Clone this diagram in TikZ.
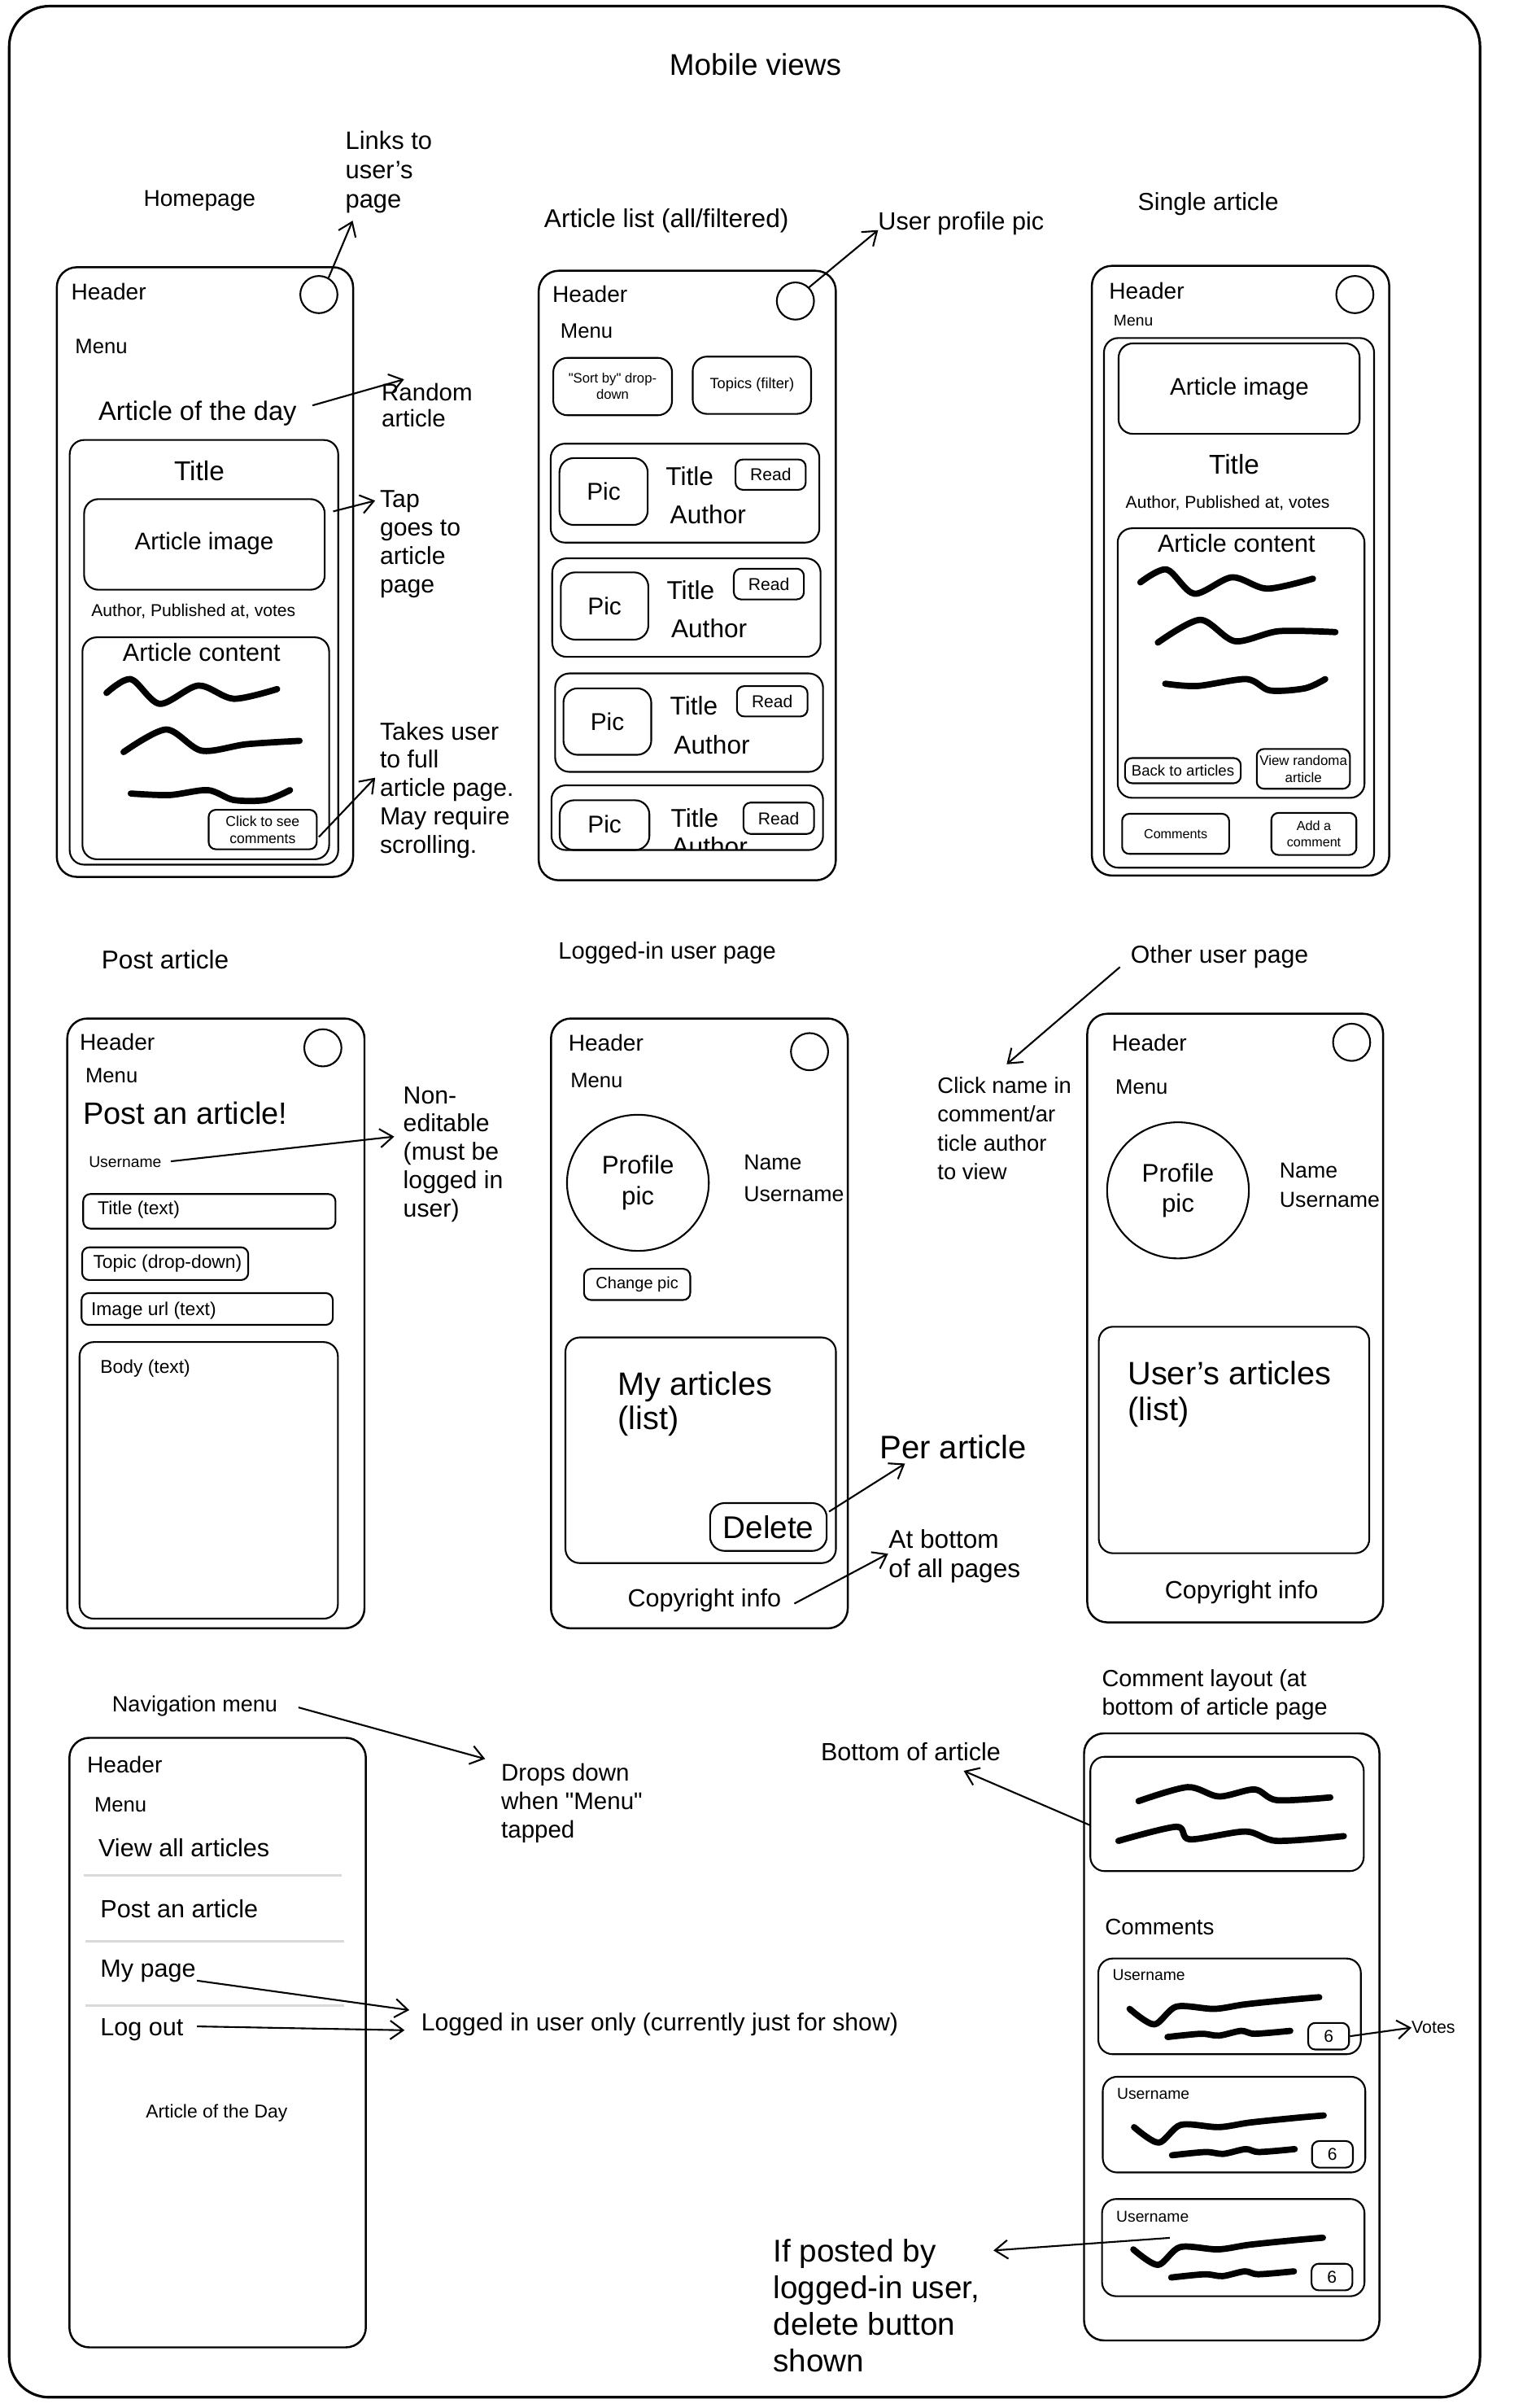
\documentclass[tikz,border=0pt]{standalone}
\usepackage{fontspec}
\setmainfont{Liberation Sans}
\usetikzlibrary{arrows.meta,shapes.geometric}

\newcommand{\fsz}[2]{\fontsize{#1}{#2}\selectfont}

\tikzset{
  txt/.style={inner sep=0pt, outer sep=0pt},
  hdr/.style={txt, font=\fsz{8}{10}, anchor=west},
  mnu/.style={txt, font=\fsz{7.3}{9}, anchor=west},
  note/.style={txt, font=\fsz{8.6}{9.9}, align=left, anchor=west},
  phone/.style={draw, line width=0.7pt, rounded corners=7pt},
  box/.style={draw, line width=0.6pt, rounded corners=5pt},
  btn/.style={draw, line width=0.6pt, rounded corners=2.5pt},
  avatar/.style={draw, circle, line width=0.6pt, minimum size=13pt, inner sep=0pt},
  pfp/.style={draw, ellipse, line width=0.6pt, inner sep=0pt, minimum width=49.6pt, minimum height=47.6pt, align=center, font=\fsz{8.9}{10.6}},
  scrib/.style={line width=2.2pt, line cap=round, line join=round},
  sep/.style={draw=black!15, line width=0.8pt},
  arr/.style={-{Straight Barb[length=4.5pt,width=6.5pt]}, line width=0.6pt}
}

\begin{document}
\begin{tikzpicture}[x=0.018874cm, y=-0.018874cm]
  \useasboundingbox (0,0) rectangle (986,1568);
  \draw[line width=0.9pt, rounded corners=14pt] (6,4) rectangle (964,1561);
  \node[txt, font=\fsz{10.5}{12}] (title) at (492,42) {Mobile views};

  % homepage
  \node[txt, font=\fsz{8}{10}] (hplbl) at (130,131) {Homepage};
  \node[note, font=\fsz{8.8}{10.2}] (hplinks) at (225,112) {Links to\\user's\\page};
  \draw[phone] (37,174) rectangle (230,571);
  \node[avatar] (hpav) at (207.7,191.8) {};
  \coordinate (hplinkstip) at (229.7,143.7);
  \draw[arr] (hpav.60) -- (hplinkstip);
  \node[hdr] (hphead) at (46.4,190) {Header};
  \node[mnu] (hpmenu) at (49,225.5) {Menu};
  \node[txt, font=\fsz{9.3}{11}, anchor=west] (hpaotd) at (64.2,269) {Article of the day};
  \node[note, font=\fsz{8.4}{9}] (hprand) at (248.6,263.7) {Random\\article};
  \coordinate (hpaotdtail) at (203.5,264);
  \coordinate (hprandtip) at (263.2,247);
  \draw[arr] (hpaotdtail) -- (hprandtip);
  \draw[box] (45.4,286.5) rectangle (220.3,563);
  \node[txt, font=\fsz{9.5}{11}] (hptitle) at (129.8,306.8) {Title};
  \draw[box] (54.8,325) rectangle (211.5,384);
  \node[txt, font=\fsz{8.4}{10}] (hpimg) at (133,354) {Article image};
  \node[txt, font=\fsz{6}{7}] (hpauth) at (126,398.3) {Author, Published at, votes};
  \draw[box] (53.7,415) rectangle (214.4,559.5);
  \node[txt, font=\fsz{8.7}{10}] (hpcont) at (131.3,424.6) {Article content};
  \draw[scrib] plot[smooth] coordinates {(69.4,451.2) (85.2,442.2) (104,458.3) (129.2,446.4) (152.2,455) (180.5,448.7)};
  \draw[scrib] plot[smooth] coordinates {(80.5,489.7) (108.2,475) (131.3,488.8) (160.6,484.6) (195.1,482.4)};
  \draw[scrib] plot[smooth] coordinates {(85.2,516.7) (110.3,517.7) (135.4,514.5) (152.2,520.9) (173.1,520.9) (188.9,514.5)};
  \draw[btn] (135.9,527.3) rectangle (206.3,553);
  \node[txt, font=\fsz{5}{6}, align=center] (hpclick) at (171.1,540.2) {Click to see\\comments};
  \coordinate (hpclicktail) at (207.7,545);
  \coordinate (hptakestip) at (244.4,506.4);
  \draw[arr] (hpclicktail) -- (hptakestip);
  \node[note] (hptakes) at (247.5,514.5) {Takes user\\to full\\article page.\\May require\\scrolling.};
  \node[note] (hptap) at (247.5,354.3) {Tap\\goes to\\article\\page};
  \coordinate (hpcardtail) at (217,333);
  \coordinate (hptaptip) at (244.4,326);
  \draw[arr] (hpcardtail) -- (hptaptip);

  % article list
  \node[txt, font=\fsz{9}{11}, anchor=west] (allbl) at (354.5,144) {Article list (all/filtered)};
  \node[txt, font=\fsz{8.7}{10}, anchor=west] (alprof) at (572,145.4) {User profile pic};
  \draw[phone] (350.9,176.3) rectangle (544.4,573.2);
  \node[avatar] (alav) at (518.1,196) {};
  \coordinate (alproftip) at (572,149.8);
  \draw[arr] (alav.45) -- (alproftip);
  \node[hdr] (alhead) at (359.9,191.6) {Header};
  \node[mnu] (almenu) at (365.1,215.4) {Menu};
  \draw[box] (360.4,233) rectangle (437.7,270.4);
  \node[txt, font=\fsz{4.75}{5.8}, align=center] (alsort) at (399,251.3) {\textquotedbl Sort by\textquotedbl{} drop-\\down};
  \draw[box] (451.2,232.2) rectangle (528.3,269.5);
  \node[txt, font=\fsz{5.2}{6}] (altopics) at (489.8,250.7) {Topics (filter)};

  \draw[box] (358.7,288.9) rectangle (533.7,353.3);
  \draw[box] (364.4,298.3) rectangle (421.9,341.8);
  \node[txt, font=\fsz{8.5}{10}] (alpic1) at (393.2,320) {Pic};
  \node[txt, font=\fsz{9}{10}, anchor=west] (altitle1) at (433.7,310) {Title};
  \draw[btn] (479.1,299.2) rectangle (524.8,318.9);
  \node[txt, font=\fsz{6}{7}] (alread1) at (502,309) {Read};
  \node[txt, font=\fsz{9}{10}, anchor=west] (alauth1) at (436.5,335) {Author};

  \draw[box] (359.7,363.6) rectangle (534.5,427.7);
  \draw[box] (365.3,372.7) rectangle (422.3,416.5);
  \node[txt, font=\fsz{8.5}{10}] (alpic2) at (393.8,394.6) {Pic};
  \node[txt, font=\fsz{9}{10}, anchor=west] (altitle2) at (434.3,384.4) {Title};
  \draw[btn] (478,370.3) rectangle (523.6,390.3);
  \node[txt, font=\fsz{6}{7}] (alread2) at (500.8,380.3) {Read};
  \node[txt, font=\fsz{9}{10}, anchor=west] (alauth2) at (437.2,409.4) {Author};

  \draw[box] (361.6,438.5) rectangle (536.1,502.6);
  \draw[box] (367,448.2) rectangle (424.2,491.5);
  \node[txt, font=\fsz{8.5}{10}] (alpic3) at (395.6,469.8) {Pic};
  \node[txt, font=\fsz{9}{10}, anchor=west] (altitle3) at (436.5,459.4) {Title};
  \draw[btn] (480,446.8) rectangle (526,466.5);
  \node[txt, font=\fsz{6}{7}] (alread3) at (503,456.6) {Read};
  \node[txt, font=\fsz{9}{10}, anchor=west] (alauth3) at (439,485) {Author};

  \draw[box] (359.2,511.4) rectangle (536.1,553.5);
  \draw[box] (364.6,521.1) rectangle (423,553.5);
  \node[txt, font=\fsz{8.5}{10}] (alpic4) at (393.8,536.5) {Pic};
  \node[txt, font=\fsz{9}{10}, anchor=west] (altitle4) at (437,532.9) {Title};
  \draw[btn] (484.3,522.6) rectangle (530.2,543);
  \node[txt, font=\fsz{6}{7}] (alread4) at (507.2,532.8) {Read};
  \begin{scope}
    \clip (359.2,511.4) rectangle (536.1,553.5);
    \node[txt, font=\fsz{9}{10}, anchor=west] (alauth4) at (437.5,551) {Author};
  \end{scope}

  % single article
  \node[txt, font=\fsz{8.6}{10}] (salbl) at (787,133) {Single article};
  \draw[phone] (711.2,173.1) rectangle (904.9,570.1);
  \node[avatar] (saav) at (882.5,191.8) {};
  \node[hdr] (sahead) at (722.5,189.5) {Header};
  \node[txt, font=\fsz{5.5}{6.5}, anchor=west] (samenu) at (725.4,208.8) {Menu};
  \draw[box] (719.1,220.1) rectangle (895,565);
  \draw[box] (728.6,223.6) rectangle (885.6,282.5);
  \node[txt, font=\fsz{8.4}{10}] (saimg) at (807.3,253.4) {Article image};
  \node[txt, font=\fsz{9.5}{11}] (satitle) at (803.9,302.4) {Title};
  \node[txt, font=\fsz{6}{7}] (saauth) at (799.7,327.7) {Author, Published at, votes};
  \draw[box] (728,344) rectangle (888.8,519.5);
  \node[txt, font=\fsz{8.7}{10}] (sacont) at (805.4,353.6) {Article content};
  \draw[scrib] plot[smooth] coordinates {(742.8,379.2) (759.9,370.8) (777.9,386.6) (802.5,375.9) (825.3,383.3) (855.2,376.8)};
  \draw[scrib] plot[smooth] coordinates {(754.2,418.4) (781.7,403.6) (804.4,417.5) (832.9,411) (869.8,411.6)};
  \draw[scrib] plot[smooth] coordinates {(759,445.2) (779.8,446.7) (812,442.2) (827.2,449.6) (850,448.2) (863.2,442.2)};
  \draw[btn] (732.8,493.6) rectangle (808.2,510);
  \node[txt, font=\fsz{5.3}{6}] (saback) at (770.5,501.8) {Back to articles};
  \draw[btn] (818.6,487.7) rectangle (879.3,513.6);
  \node[txt, font=\fsz{4.8}{5.8}, align=center] (sarand) at (849,500.7) {View randoma\\article};
  \draw[btn] (730.9,529.9) rectangle (800.6,556);
  \node[txt, font=\fsz{4.6}{5.6}] (sacomm) at (765.8,543) {Comments};
  \draw[btn] (828.1,529.3) rectangle (883.5,556.7);
  \node[txt, font=\fsz{4.6}{5.8}, align=center] (saadd) at (855.8,543) {Add a\\comment};

  % post article
  \node[txt, font=\fsz{9}{10}] (palbl) at (107.6,624.6) {Post article};
  \draw[phone] (43.8,663.2) rectangle (237.4,1060.3);
  \node[avatar] (paav) at (210.3,682.3) {};
  \node[hdr] (pahead) at (52,678.4) {Header};
  \node[mnu] (pamenu) at (55.7,700.6) {Menu};
  \node[txt, font=\fsz{10.8}{12}, anchor=west] (papost) at (54.2,724.9) {Post an article!};
  \node[txt, font=\fsz{5.5}{6.5}, anchor=west] (pauser) at (57.9,756.8) {Username};
  \node[note] (panon) at (262.7,751.6) {Non-\\editable\\(must be\\logged in\\user)};
  \coordinate (pausertail) at (111.3,756.2);
  \coordinate (panontip) at (256.8,740.1);
  \draw[arr] (pausertail) -- (panontip);
  \draw[btn] (54.2,777.5) rectangle (218.5,800);
  \node[txt, font=\fsz{6.5}{7.5}, anchor=west] (patitle) at (63.7,787.9) {Title (text)};
  \draw[btn] (53.5,812.2) rectangle (161.7,833.5);
  \node[txt, font=\fsz{6.5}{7.5}, anchor=west] (patopic) at (60.7,822.8) {Topic (drop-down)};
  \draw[btn] (53.1,842) rectangle (216.8,862.7);
  \node[txt, font=\fsz{6.5}{7.5}, anchor=west] (paimg) at (59.4,853.5) {Image url (text)};
  \draw[box] (51.8,873.9) rectangle (220.1,1054);
  \node[txt, font=\fsz{6.5}{7.5}, anchor=west] (pabody) at (65.4,891.3) {Body (text)};

  % logged-in user page
  \node[txt, font=\fsz{8.3}{10}, anchor=west] (lulbl) at (363.7,620.6) {Logged-in user page};
  \draw[phone] (358.9,663.2) rectangle (552.2,1060.3);
  \node[avatar] (luav) at (527.3,684.8) {};
  \node[hdr] (luhead) at (370.3,679.3) {Header};
  \node[mnu] (lumenu) at (371.6,703.6) {Menu};
  \node[pfp] (lupic) at (415.5,770.2) {Profile\\pic};
  \node[txt, font=\fsz{7.6}{11.1}, align=left, anchor=west] (luname) at (484.5,767.2) {Name\\Username};
  \draw[btn] (380.4,826.2) rectangle (449.6,846.5);
  \node[txt, font=\fsz{5.7}{6.5}] (luchange) at (415,836.5) {Change pic};
  \draw[box] (368.3,870.9) rectangle (544.5,1017.8);
  \node[txt, font=\fsz{11.3}{12.2}, align=left, anchor=west] (luarts) at (402.4,914.2) {My articles\\(list)};
  \node[draw, line width=0.6pt, rounded corners=5pt, inner sep=0pt, minimum width=40.8pt, minimum height=16.7pt, font=\fsz{11}{12}] (ludel) at (500.5,994.3) {Delete};
  \node[txt, font=\fsz{11.4}{12}, anchor=west] (luper) at (573,942.3) {Per article};
  \coordinate (ludeltail) at (540,984.3);
  \coordinate (lupertip) at (589.5,953);
  \draw[arr] (ludeltail) -- (lupertip);
  \node[txt, font=\fsz{8.7}{10}] (lucopy) at (458.8,1042.1) {Copyright info};
  \node[note, font=\fsz{9}{10.2}] (lubottom) at (578.9,1013.5) {At bottom\\of all pages};
  \coordinate (lucopytail) at (517.4,1044.2);
  \coordinate (lubottomtip) at (578.5,1011.7);
  \draw[arr] (lucopytail) -- (lubottomtip);

  % other user page
  \node[txt, font=\fsz{8.6}{10}, anchor=west] (oulbl) at (736.5,623) {Other user page};
  \node[note, font=\fsz{7.8}{10.1}] (ouclick) at (610.7,734.9) {Click name in\\comment/ar\\ticle author\\to view};
  \coordinate (oulbltail) at (729.5,629.7);
  \coordinate (ouclicktip) at (655.7,693);
  \draw[arr] (oulbltail) -- (ouclicktip);
  \draw[phone] (708.2,660.1) rectangle (900.9,1056.4);
  \node[avatar] (ouav) at (880.4,678.7) {};
  \node[hdr] (ouhead) at (724.2,679.3) {Header};
  \node[mnu] (oumenu) at (726.6,707.6) {Menu};
  \node[pfp] (oupic) at (767.3,775.1) {Profile\\pic};
  \node[txt, font=\fsz{7.6}{10.2}, align=left, anchor=west] (ouname) at (833.5,771.8) {Name\\Username};
  \draw[box] (715.7,863.9) rectangle (891.9,1011.4);
  \node[txt, font=\fsz{11.3}{12.6}, align=left, anchor=west] (ouarts) at (734.7,907.8) {User's articles\\(list)};
  \node[txt, font=\fsz{8.7}{10}] (oucopy) at (808.7,1036.6) {Copyright info};

  % navigation menu
  \node[txt, font=\fsz{7.7}{9}, anchor=west] (nmlbl) at (73.1,1111.2) {Navigation menu};
  \node[note, font=\fsz{8.4}{10}] (nmdrops) at (326.5,1174) {Drops down\\when \textquotedbl Menu\textquotedbl\\tapped};
  \coordinate (nmlbltail) at (194.4,1111.8);
  \coordinate (nmdropstip) at (316,1145.3);
  \draw[arr] (nmlbltail) -- (nmdropstip);
  \draw[phone] (45.2,1131.6) rectangle (238.3,1528.5);
  \node[hdr] (nmhead) at (56.8,1149.2) {Header};
  \node[mnu] (nmmenu) at (61.5,1175.1) {Menu};
  \node[txt, font=\fsz{8.7}{10}, anchor=west] (nmview) at (64.2,1203.4) {View all articles};
  \draw[sep] (54.5,1221.3) -- (222.7,1221.3);
  \node[txt, font=\fsz{8.7}{10}, anchor=west] (nmpost) at (65.4,1242.9) {Post an article};
  \draw[sep] (55.6,1263.9) -- (224.3,1263.9);
  \node[txt, font=\fsz{8.7}{10}, anchor=west] (nmmy) at (65.4,1283.6) {My page};
  \draw[sep] (55.6,1305.8) -- (224.3,1305.8);
  \node[txt, font=\fsz{8.7}{10}, anchor=west] (nmlog) at (65.4,1321.7) {Log out};
  \node[txt, font=\fsz{8.6}{10}, anchor=west] (nmonly) at (274.4,1318) {Logged in user only (currently just for show)};
  \coordinate (nmmytail) at (128.3,1289.7);
  \coordinate (nmmytip) at (266.6,1308.9);
  \coordinate (nmlogtail) at (128.3,1319.5);
  \coordinate (nmlogtip) at (263.5,1322);
  \draw[arr] (nmmytail) -- (nmmytip);
  \draw[arr] (nmlogtail) -- (nmlogtip);
  \node[txt, font=\fsz{6.5}{7.5}] (nmaotd) at (141.1,1375.8) {Article of the Day};

  % comment layout
  \node[note, font=\fsz{8.2}{9.8}] (cllbl) at (717.8,1103.5) {Comment layout (at\\bottom of article page};
  \node[txt, font=\fsz{8.7}{10}, anchor=west] (clbottom) at (534.7,1140.9) {Bottom of article};
  \coordinate (clboxtail) at (710.2,1188.6);
  \coordinate (clbottomtip) at (627.7,1153.1);
  \draw[arr] (clboxtail) -- (clbottomtip);
  \draw[phone] (706.1,1128.7) rectangle (898.5,1524);
  \draw[box] (710.2,1143.9) rectangle (888.3,1218.4);
  \draw[scrib] plot[smooth] coordinates {(741.6,1172.8) (773.6,1163.7) (793.9,1169.8) (817.2,1165.2) (831.7,1172.2) (866.5,1170.4)};
  \draw[scrib] plot[smooth] coordinates {(728.5,1198.7) (766.3,1189.5) (775,1197.7) (811.3,1192.6) (831.7,1198.7) (875.3,1195.6)};
  \node[txt, font=\fsz{7.9}{9}, anchor=west] (clcomm) at (719.8,1254.9) {Comments};

  \begin{scope}[shift={(715.4,1275.3)}]
    \draw[box] (0,0) rectangle (171,62.3);
    \node[txt, font=\fsz{5.5}{6.5}, anchor=west] (cluser1) at (9.3,10.9) {Username};
    \draw[scrib] plot[smooth] coordinates {(20.4,32.8) (36.4,42.9) (50.9,31.3) (75.6,32.8) (95.9,29.8) (126.4,26.7) (143.9,25.2)};
    \draw[scrib] plot[smooth] coordinates {(45.1,51.1) (66.9,49) (78.5,50.2) (93,47.1) (101.8,49) (125,47.1)};
    \node[btn, inner sep=0pt, minimum width=14.3pt, minimum height=9.3pt, font=\fsz{6}{7}] (clvote1) at (150,50.6) {6};
  \end{scope}
  \begin{scope}[shift={(718.3,1352.3)}]
    \draw[box] (0,0) rectangle (171,62.3);
    \node[txt, font=\fsz{5.5}{6.5}, anchor=west] (cluser2) at (9.3,11.1) {Username};
    \draw[scrib] plot[smooth] coordinates {(20.4,32.8) (36.4,42.9) (50.9,31.3) (75.6,32.8) (95.9,29.8) (126.4,26.7) (143.9,25.2)};
    \draw[scrib] plot[smooth] coordinates {(45.1,51.1) (66.9,49) (78.5,50.2) (93,47.1) (101.8,49) (125,47.1)};
    \node[btn, inner sep=0pt, minimum width=14.3pt, minimum height=9.3pt, font=\fsz{6}{7}] (clvote2) at (149.6,50.5) {6};
  \end{scope}
  \begin{scope}[shift={(717.8,1431.9)}]
    \draw[box] (0,0) rectangle (171,63.3);
    \node[txt, font=\fsz{5.5}{6.5}, anchor=west] (cluser3) at (9.3,11.6) {Username};
    \draw[scrib] plot[smooth] coordinates {(20.4,32.8) (36.4,42.9) (50.9,31.3) (75.6,32.8) (95.9,29.8) (126.4,26.7) (143.9,25.2)};
    \draw[scrib] plot[smooth] coordinates {(45.1,51.1) (66.9,49) (78.5,50.2) (93,47.1) (101.8,49) (125,47.1)};
    \node[btn, inner sep=0pt, minimum width=14.3pt, minimum height=9.3pt, font=\fsz{6}{7}] (clvote3) at (149.8,50.8) {6};
  \end{scope}
  \node[txt, font=\fsz{6.1}{7}, anchor=west] (clvotes) at (919.4,1320.3) {Votes};
  \draw[arr] (clvote1.east) -- (clvotes.west);
  \node[note, font=\fsz{11}{12.8}] (clposted) at (503.7,1501.2) {If posted by\\logged-in user,\\delete button\\shown};
  \coordinate (clcardtail) at (761.9,1457.2);
  \coordinate (clpostedtip) at (647.1,1465.4);
  \draw[arr] (clcardtail) -- (clpostedtip);
\end{tikzpicture}
\end{document}
